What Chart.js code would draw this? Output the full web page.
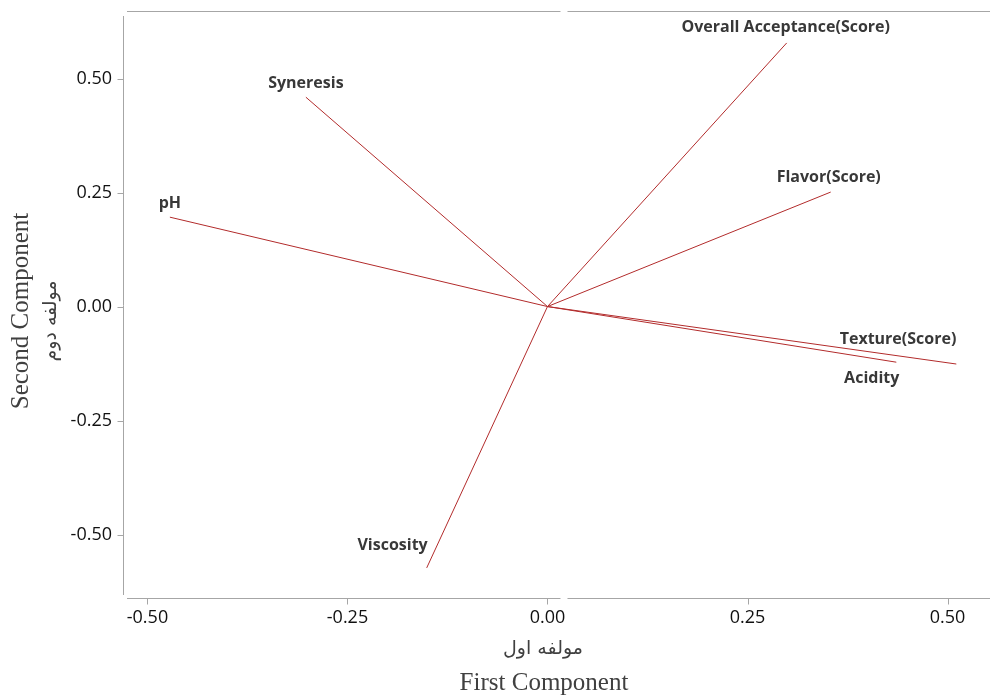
<!DOCTYPE html>
<html>
<head>
<meta charset="utf-8">
<script src="https://cdn.jsdelivr.net/npm/chart.js@4"></script>
<style>
html,body{margin:0;padding:0;background:#fff;}
#wrap{width:991px;height:695px;}
</style>
</head>
<body>
<div id="wrap"><canvas id="c" width="991" height="695"></canvas></div>
<script>
// ---- data ----
const variables = ['pH', 'Syneresis', 'Overall Acceptance(Score)', 'Flavor(Score)', 'Texture(Score)', 'Acidity', 'Viscosity'];
const firstComponent  = [-0.472, -0.302, 0.299, 0.354, 0.511, 0.436, -0.151];
const secondComponent = [ 0.196,  0.459, 0.578, 0.251, -0.126, -0.122, -0.573];
const xTickValues = [-0.50, -0.25, 0.00, 0.25, 0.50];
const yTickValues = [0.50, 0.25, 0.00, -0.25, -0.50];
const xTitleEn = 'First Component';
const xTitleFa = 'مولفه اول';
const yTitleEn = 'Second Component';
const yTitleFa = 'مولفه دوم';

// ---- label placement (style only) ----
const labelPlacement = [
  {align: 'center', dx: 0,  dy: -14},
  {align: 'center', dx: 0,  dy: -14},
  {align: 'center', dx: -1, dy: -15},
  {align: 'center', dx: -2, dy: -15},
  {align: 'right',  dx: 0,  dy: -25},
  {align: 'right',  dx: 3,  dy: 16},
  {align: 'right',  dx: 1,  dy: -22}
];

const LINE_COLOR = '#b22b2b';
const FRAME_COLOR = '#a6a6a6';

const framePlugin = {
  id: 'frame',
  beforeDatasetsDraw(chart) {
    const ctx = chart.ctx;
    const a = chart.chartArea;
    const xs = chart.scales.x, ys = chart.scales.y;
    const zx = xs.getPixelForValue(0);
    ctx.save();
    ctx.strokeStyle = FRAME_COLOR;
    ctx.lineWidth = 1;
    ctx.beginPath();
    const ty = Math.round(a.top) + 0.5;
    ctx.moveTo(a.left, ty); ctx.lineTo(zx + 13, ty);
    ctx.moveTo(zx + 20, ty); ctx.lineTo(a.right, ty);
    const by = Math.round(a.bottom) + 0.5;
    ctx.moveTo(a.left, by); ctx.lineTo(zx + 13, by);
    ctx.moveTo(zx + 20, by); ctx.lineTo(a.right, by);
    const lx = Math.round(a.left) - 4 + 0.5;
    ctx.moveTo(lx, a.top + 5); ctx.lineTo(lx, a.bottom - 3);
    xTickValues.forEach(v => {
      const px = Math.round(xs.getPixelForValue(v)) + 0.5;
      ctx.moveTo(px, by); ctx.lineTo(px, by + 6);
    });
    yTickValues.forEach(v => {
      const py = Math.round(ys.getPixelForValue(v)) + 0.5;
      ctx.moveTo(lx - 6, py); ctx.lineTo(lx, py);
    });
    ctx.stroke();

    ctx.fillStyle = '#404040';
    ctx.textAlign = 'center';
    ctx.font = '19px "DejaVu Sans", sans-serif';
    ctx.textBaseline = 'middle';
    ctx.fillText(xTitleFa, 543, 649);
    ctx.font = '25px "Liberation Serif", "Times New Roman", serif';
    ctx.textBaseline = 'alphabetic';
    ctx.fillText(xTitleEn, 544, 690);

    ctx.save();
    ctx.translate(28, 311);
    ctx.rotate(-Math.PI / 2);
    ctx.fillText(yTitleEn, 0, 0);
    ctx.restore();

    ctx.save();
    ctx.translate(51, 321);
    ctx.rotate(-Math.PI / 2);
    ctx.font = '19px "DejaVu Sans", sans-serif';
    ctx.textBaseline = 'middle';
    ctx.fillText(yTitleFa, 0, 0);
    ctx.restore();
    ctx.restore();
  },
  afterDatasetsDraw(chart) {
    const ctx = chart.ctx;
    const xs = chart.scales.x, ys = chart.scales.y;
    ctx.save();
    ctx.fillStyle = '#383838';
    ctx.font = 'bold 16px "Open Sans", sans-serif';
    ctx.textBaseline = 'middle';
    variables.forEach((name, i) => {
      const p = labelPlacement[i];
      const px = xs.getPixelForValue(firstComponent[i]) + p.dx;
      const py = ys.getPixelForValue(secondComponent[i]) + p.dy;
      ctx.textAlign = p.align;
      ctx.fillText(name, px, py);
    });
    ctx.restore();
  }
};

const ctx = document.getElementById('c').getContext('2d');
new Chart(ctx, {
  type: 'scatter',
  data: {
    datasets: variables.map((name, i) => ({
      label: name,
      data: [{x: 0, y: 0}, {x: firstComponent[i], y: secondComponent[i]}],
      showLine: true,
      borderColor: LINE_COLOR,
      backgroundColor: LINE_COLOR,
      borderWidth: 1,
      pointRadius: 0,
      pointHoverRadius: 0,
      fill: false
    }))
  },
  options: {
    responsive: false,
    animation: false,
    events: [],
    layout: {padding: {top: 11, right: 1, left: 0, bottom: 0}},
    plugins: {legend: {display: false}, tooltip: {enabled: false}},
    scales: {
      x: {
        type: 'linear',
        min: -0.5256,
        max: 0.5531,
        afterBuildTicks: s => { s.ticks = xTickValues.map(v => ({value: v})); },
        afterFit: s => { s.height = 97; s.paddingLeft = 0; s.paddingRight = 0; },
        grid: {display: false, drawTicks: false, tickLength: 0},
        border: {display: false},
        ticks: {
          padding: 9,
          autoSkip: false,
          maxRotation: 0,
          color: '#111111',
          font: {family: '"Open Sans", sans-serif', size: 18},
          callback: v => Number(v).toFixed(2)
        }
      },
      y: {
        type: 'linear',
        min: -0.639,
        max: 0.648,
        afterBuildTicks: s => { s.ticks = yTickValues.map(v => ({value: v})); },
        afterFit: s => { s.width = 127; s.paddingTop = 0; s.paddingBottom = 0; },
        grid: {display: false, drawTicks: false, tickLength: 0},
        border: {display: false},
        ticks: {
          padding: 15,
          autoSkip: false,
          color: '#111111',
          font: {family: '"Open Sans", sans-serif', size: 18},
          callback: v => Number(v).toFixed(2)
        }
      }
    }
  },
  plugins: [framePlugin]
});
</script>
</body>
</html>
